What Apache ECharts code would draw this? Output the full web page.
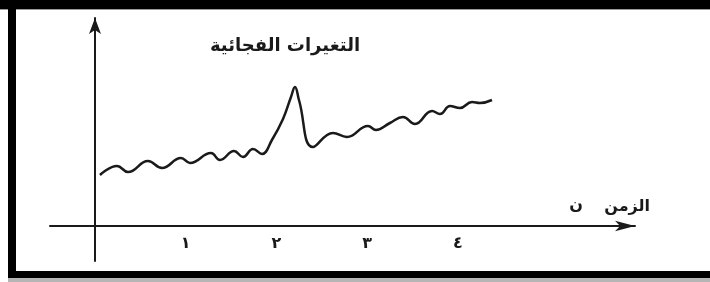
<!DOCTYPE html>
<html>
<head>
<meta charset="utf-8">
<script src="https://cdn.jsdelivr.net/npm/echarts@6/dist/echarts.min.js"></script>
<style>
  html, body { margin: 0; padding: 0; background: #fff; }
  #chart { width: 710px; height: 282px; }
</style>
</head>
<body>
<div id="chart"></div>
<script>
// time positions (x) and level (y) of the wavy curve, read at its crests and troughs
var timeX = [0.055, 0.243, 0.364, 0.584, 0.739, 0.948, 1.047, 1.279, 1.378, 1.533,
  1.632, 1.742, 1.841, 1.951, 2.073, 2.161, 2.205, 2.249, 2.403, 2.624,
  2.778, 3.010, 3.098, 3.252, 3.396, 3.528, 3.716, 3.804, 3.914, 4.024,
  4.157, 4.245, 4.377];
var levelY = [5.1, 6.0, 5.4, 6.5, 5.8, 6.8, 6.3, 7.3, 6.6, 7.5,
  6.9, 7.7, 7.2, 8.6, 10.7, 12.9, 13.9, 12.6, 7.9, 9.3,
  8.9, 10.0, 9.6, 10.3, 10.9, 10.2, 11.5, 11.2, 12.0, 11.8,
  12.4, 12.3, 12.6];
var tickValues = [1, 2, 3, 4];
var tickLabels = ['١', '٢', '٣', '٤'];
var titleText = 'التغيرات الفجائية';
var axisWord = 'الزمن';
var axisSym = 'ن';

var chart = echarts.init(document.getElementById('chart'), null, { renderer: 'canvas' });

var points = timeX.map(function (x, i) { return [x, levelY[i]]; });
var ink = '#1a1a1a';
var font = 'DejaVu Sans';

var option = {
  animation: false,
  backgroundColor: '#fff',
  grid: { left: 50, right: 75, top: 18, bottom: 21 },
  xAxis: {
    type: 'value',
    min: -0.496,
    max: 5.954,
    offset: -35, // lift the time axis up to the zero level, labels follow it
    splitLine: { show: false },
    axisTick: { show: false },
    axisLine: {
      onZero: false,
      symbol: ['none', 'arrow'],
      symbolSize: [8, 20],
      lineStyle: { color: ink, width: 2 }
    },
    axisLabel: {
      customValues: tickValues,
      margin: 10,
      fontFamily: font,
      fontWeight: 'bold',
      fontSize: 16,
      color: ink,
      formatter: function (v) {
        var i = tickValues.indexOf(v);
        return i >= 0 ? tickLabels[i] : '';
      }
    }
  },
  yAxis: {
    type: 'value',
    min: -3.5,
    max: 20.8,
    splitLine: { show: false },
    axisTick: { show: false },
    axisLabel: { show: false },
    axisLine: {
      onZero: true,
      symbol: ['none', 'arrow'],
      symbolSize: [9, 16],
      lineStyle: { color: ink, width: 2 }
    }
  },
  series: [{
    type: 'line',
    data: points,
    smooth: 0.45,
    showSymbol: false,
    lineStyle: { color: ink, width: 2.5 }
  }],
  graphic: [
    // frame
    { type: 'rect', shape: { x: 0, y: 0, width: 710, height: 9 }, style: { fill: '#000' } },
    { type: 'rect', shape: { x: 0, y: 9, width: 710, height: 1 }, style: { fill: '#9a9a9a' } },
    { type: 'rect', shape: { x: 8, y: 0, width: 8, height: 278 }, style: { fill: '#000' } },
    { type: 'rect', shape: { x: 8, y: 271, width: 702, height: 7 }, style: { fill: '#000' } },
    { type: 'rect', shape: { x: 8, y: 278, width: 702, height: 4 }, style: { fill: '#b5b5b5' } },
    // texts
    { type: 'text', x: 285, y: 46, style: { text: titleText, font: 'bold 18px "DejaVu Sans"', fill: ink, align: 'center', verticalAlign: 'middle' } },
    { type: 'text', x: 650, y: 207, style: { text: axisWord, font: 'bold 16px "DejaVu Sans"', fill: ink, align: 'right', verticalAlign: 'middle' } },
    { type: 'text', x: 583, y: 205, style: { text: axisSym, font: 'bold 16px "DejaVu Sans"', fill: ink, align: 'right', verticalAlign: 'middle' } }
  ]
};

chart.setOption(option);
</script>
</body>
</html>
